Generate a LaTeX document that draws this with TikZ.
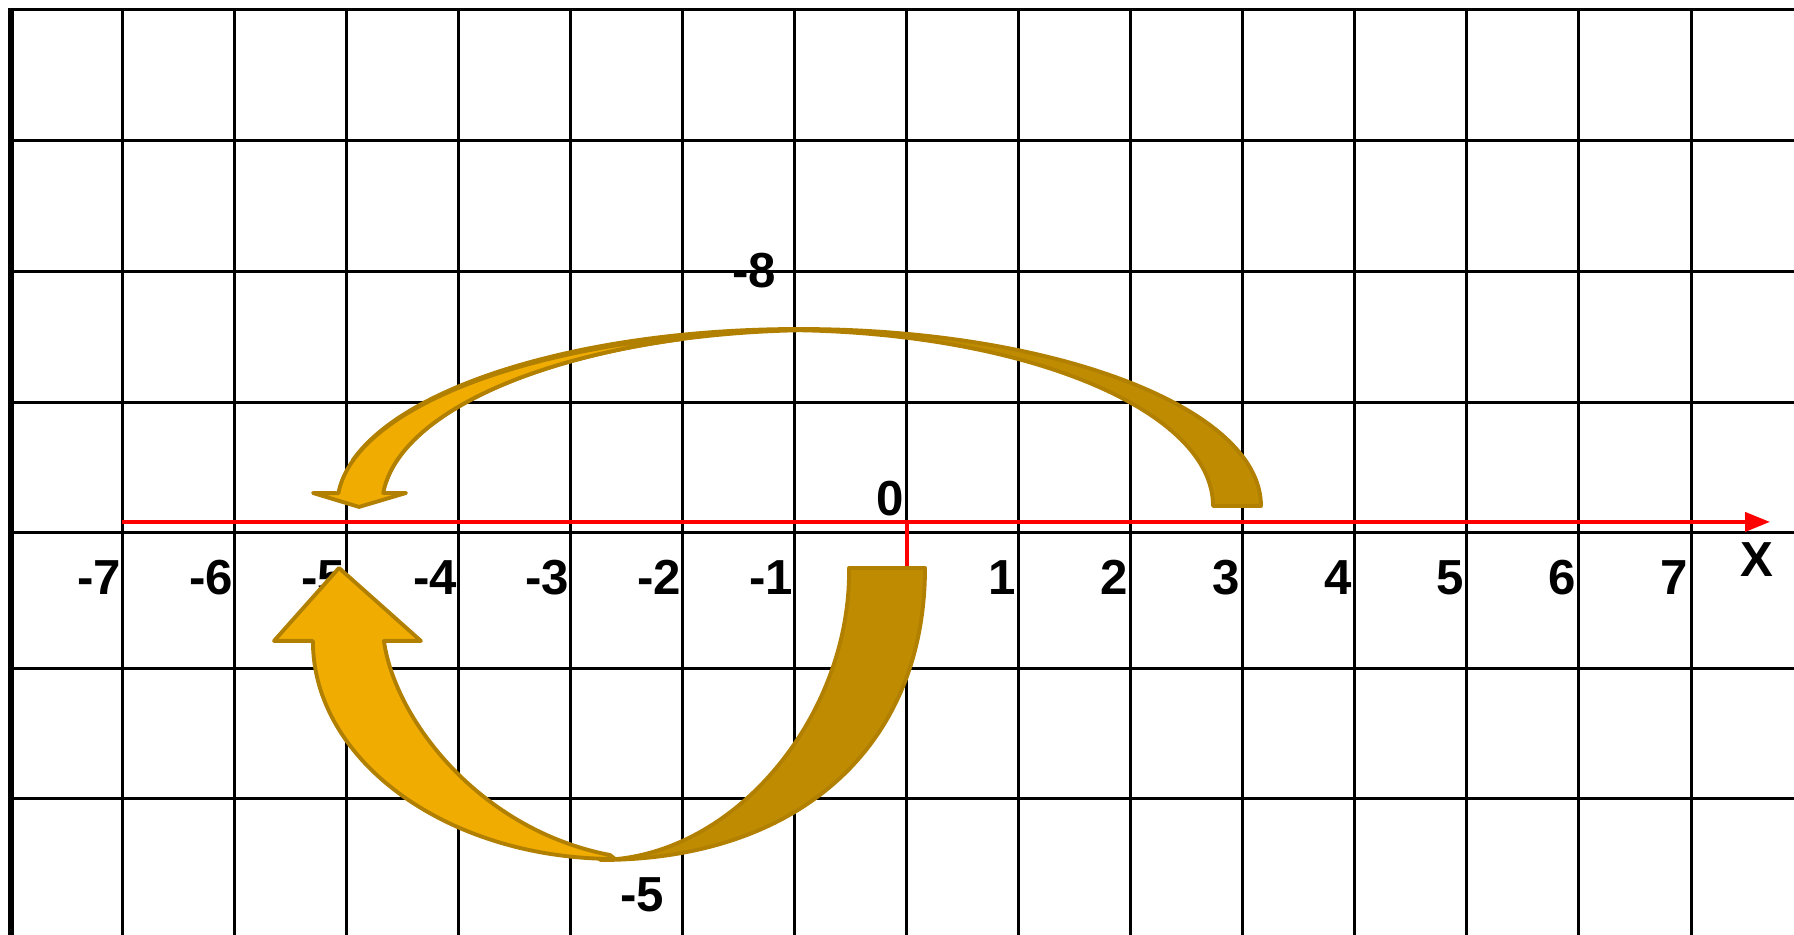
\documentclass[tikz,border=0pt]{standalone}
\usepackage{fontspec}
\setmainfont{Liberation Sans}
\usepackage{tikz}
\usetikzlibrary{calc, arrows.meta}
\definecolor{arrowFront}{RGB}{240, 172, 0}
\definecolor{arrowBack}{RGB}{191, 139, 0}
\definecolor{arrowEdge}{RGB}{178, 128, 0}

\begin{document}
\begin{tikzpicture}[x=1.1207cm, y=1.315cm, font=\fontsize{14}{16}\selectfont\bfseries,
  gridline/.style={black, line width=0.85pt},
  numlabel/.style={anchor=east, inner sep=0pt},
  axisline/.style={red, line width=1.13pt},
  front/.style={fill=arrowFront, draw=arrowEdge, line width=1.1pt, line join=round},
  back/.style={fill=arrowBack, draw=arrowEdge, line width=1.1pt, line join=round}]
  \useasboundingbox (-8.089,-3.057) rectangle (7.919,4.053);

  % grid
  \foreach \y in {2.981,1.992,0.989,0,-1.027,-2.023}
    \draw[gridline] (-7.965,\y) -- (7.919,\y);
  \foreach \x in {-7,...,7}
    \draw[gridline] (\x,3.977) -- (\x,-3.057);
  \draw[gridline] (-8.018,3.977) -- (7.919,3.977);
  \fill (-8.018,3.99) rectangle (-7.965,-3.057);

  % x axis
  \coordinate (xstart) at (-7,0.084);
  \coordinate (xend) at (7.705,0.084);
  \coordinate (origin) at (0,0.084);
  \coordinate (tick) at (0,-0.259);
  \draw[axisline, -{Triangle[length=0.25cm, width=0.19cm]}] (xstart) -- (xend);
  \draw[axisline] (origin) -- (tick);

  % labels
  \foreach \x in {-7,-6,-5,-4,-3,-2,-1}
    \node[numlabel] (n\x) at (\x-0.005,-0.34) {\x};
  \foreach \x in {1,2,...,7}
    \node[numlabel] (n\x) at (\x-0.02,-0.34) {\x};
  \node[numlabel] (zero) at (-0.02,0.262) {0};
  \node (xlab) at (7.589,-0.205) {X};
  \node (jumpA) at (-1.361,1.996) {-8};
  \node (jumpB) at (-2.360,-2.753) {-5};

  % upper arrow: 3 -> -5
  \coordinate (uo) at (-0.959,0.205);
  \coordinate (ut) at (-1.129,0.205);
  \coordinate (ui) at (-0.772,0.205);
  \draw[back] ($(uo)+(0:4.122 and 1.346)$)
    arc[start angle=0, end angle=165, x radius=4.122, y radius=1.346]
    -- ($(ui)+(172:3.908 and 1.338)$)
    arc[start angle=172, end angle=92.6, x radius=3.908, y radius=1.338]
    -- ($(ut)+(87.35:3.864 and 1.338)$)
    arc[start angle=87.35, end angle=0, x radius=3.864, y radius=1.338] -- cycle;
  \draw[front] ($(uo)+(175.8:4.122 and 1.33)$)
    arc[start angle=175.8, end angle=104.6, x radius=4.122, y radius=1.33]
    -- ($(ui)+(108.3:3.908 and 1.338)$)
    arc[start angle=108.3, end angle=175.76, x radius=3.908, y radius=1.338]
    -- (-4.466,0.304) -- (-4.885,0.198) -- (-5.296,0.304) -- cycle;

  % lower arrow: 0 -> -5
  \draw[front] (-5.297,-0.821) .. controls (-5.297,-1.734) and (-4.093,-2.479) .. (-2.601,-2.479)
    -- (-2.646,-2.449) .. controls (-3.806,-2.259) and (-4.564,-1.422) .. (-4.663,-0.821)
    -- (-4.333,-0.821) -- (-5.064,-0.266) -- (-5.644,-0.821) -- cycle;
  \draw[back] (0.165,-0.266) .. controls (0.165,-1.612) and (-0.950,-2.487) .. (-2.735,-2.487)
    .. controls (-1.530,-2.471) and (-0.495,-1.384) .. (-0.513,-0.266) -- cycle;
\end{tikzpicture}
\end{document}
